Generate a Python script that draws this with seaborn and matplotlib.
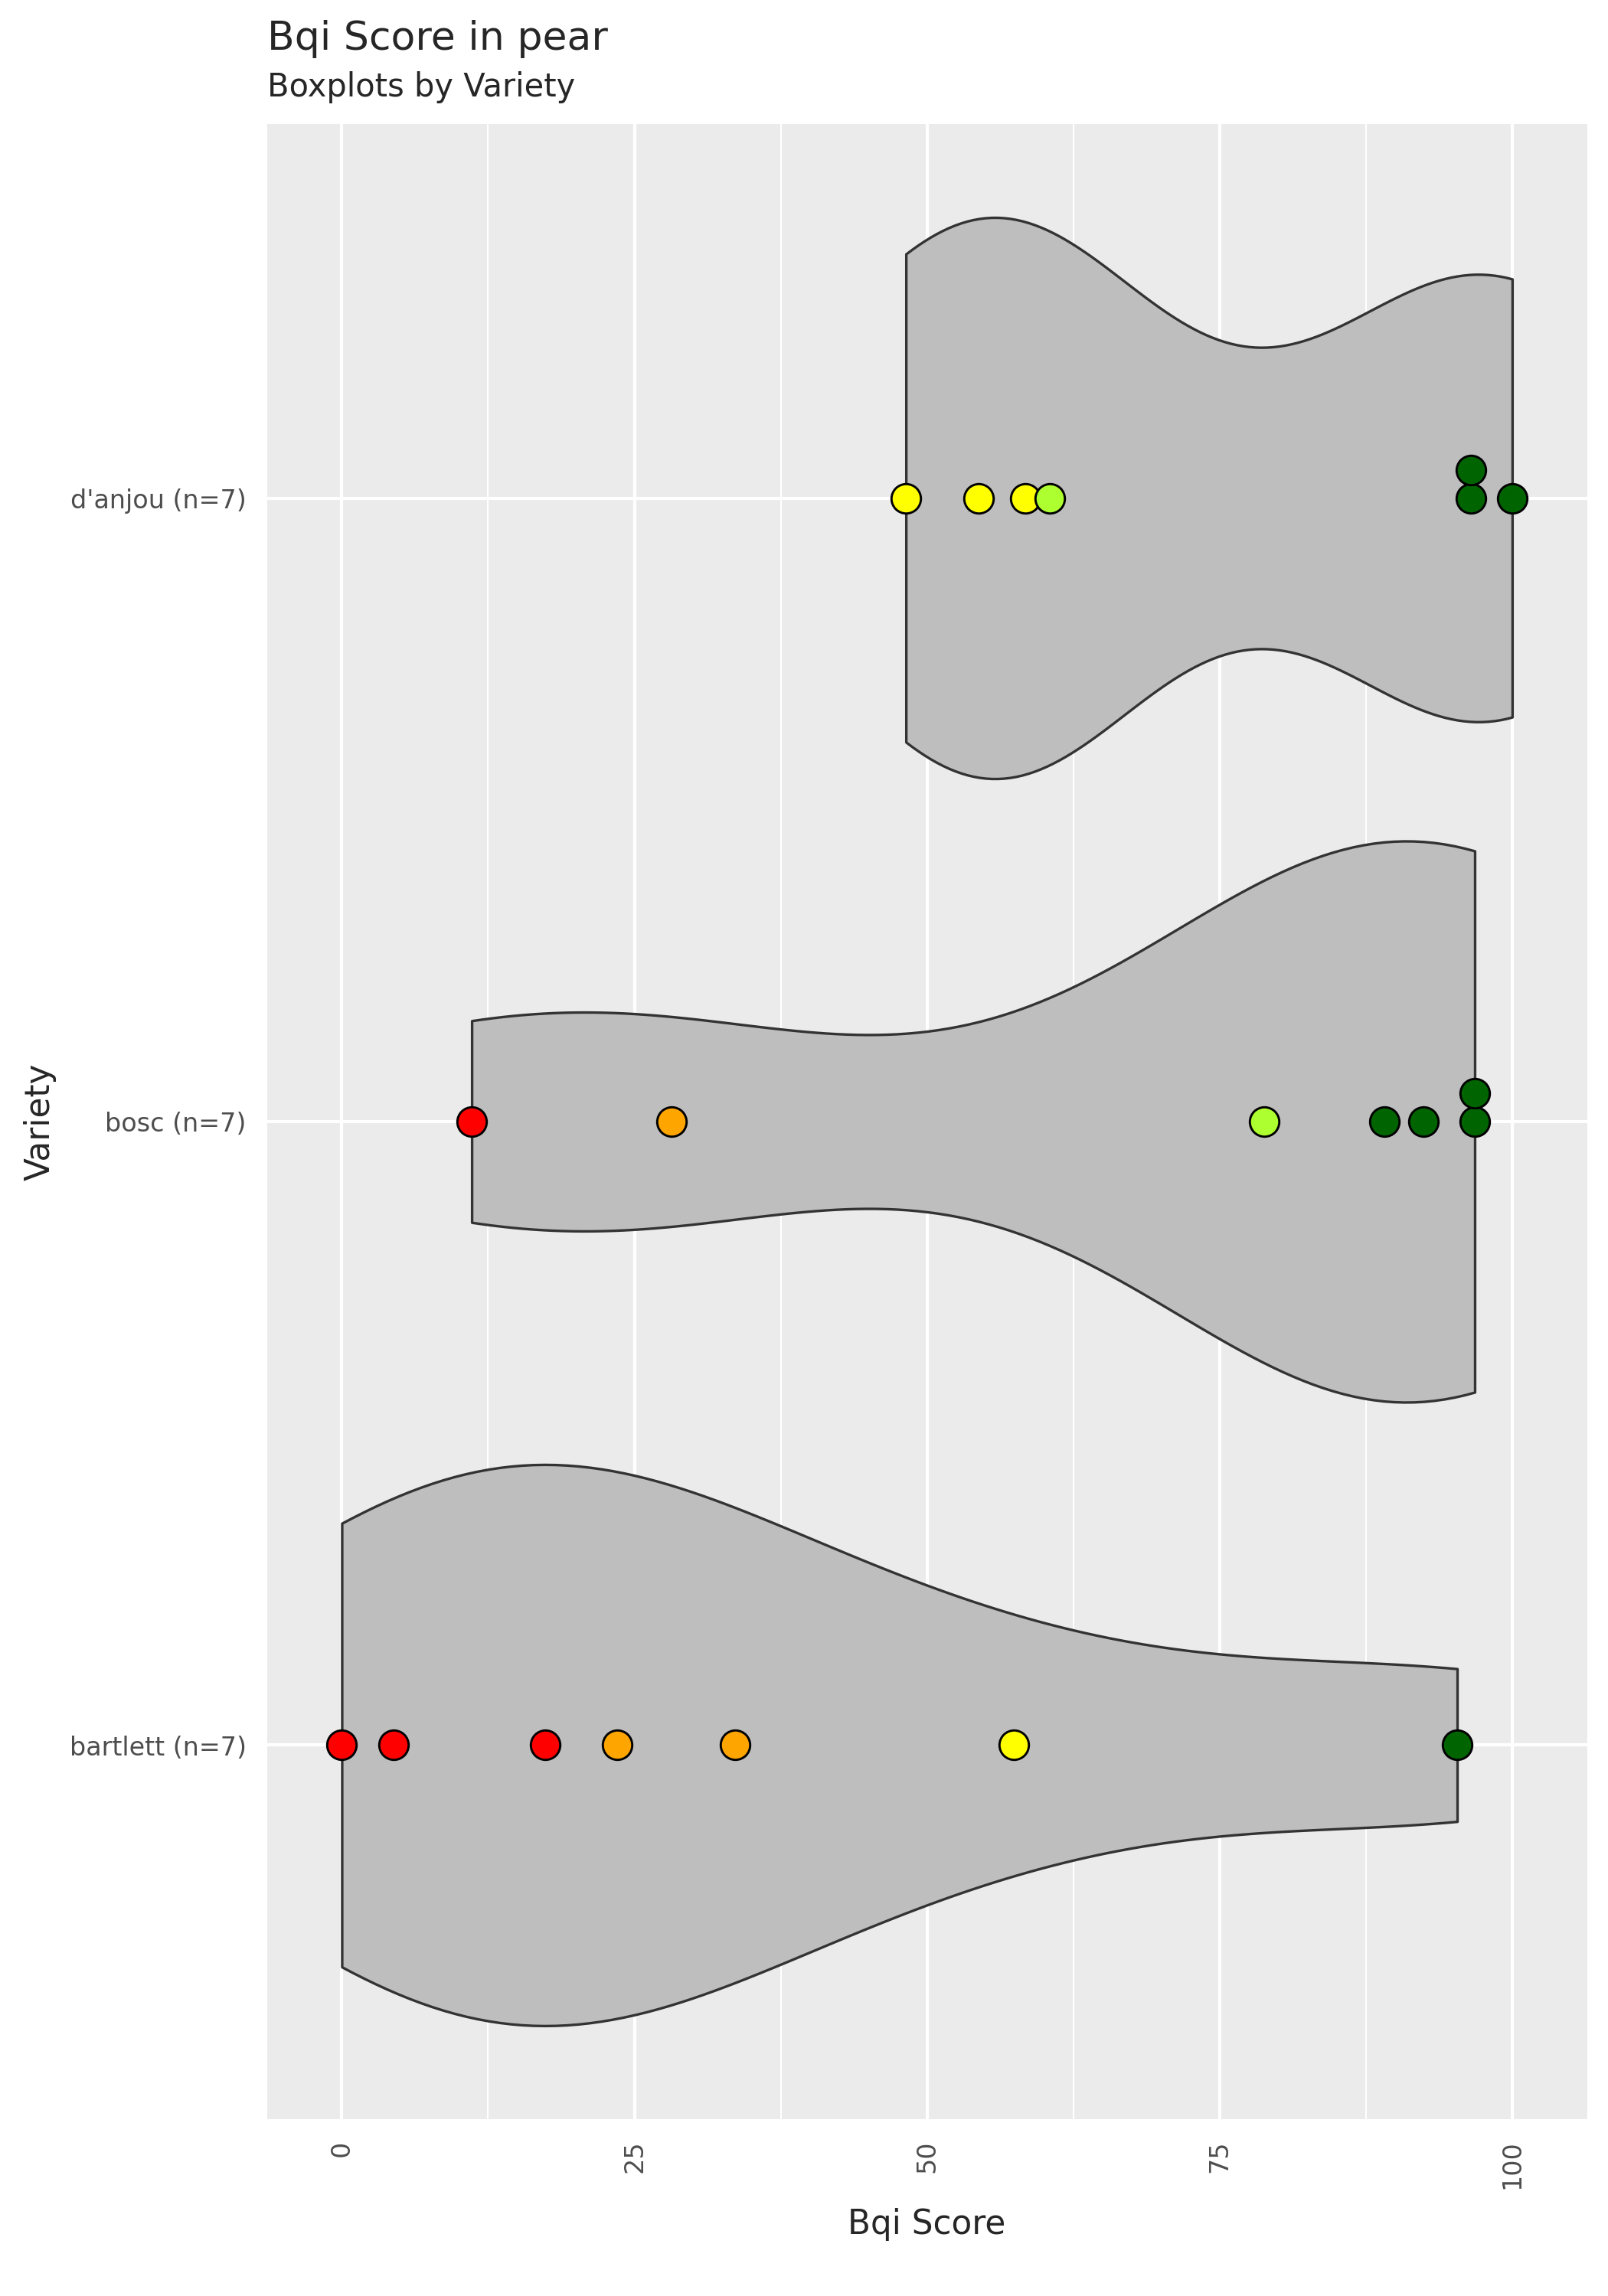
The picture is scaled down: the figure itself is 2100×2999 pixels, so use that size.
import numpy as np
import pandas as pd
import matplotlib
matplotlib.use("Agg")
import matplotlib.pyplot as plt
import seaborn as sns

varieties = ["d'anjou", "bosc", "bartlett"]
danjou_scores = [48.2, 54.4, 58.4, 60.5, 96.5, 96.5, 100.0]
danjou_colors = ["yellow", "yellow", "yellow", "greenyellow", "darkgreen", "darkgreen", "darkgreen"]
bosc_scores = [11.1, 28.2, 78.8, 89.1, 92.4, 96.8, 96.8]
bosc_colors = ["red", "orange", "greenyellow", "darkgreen", "darkgreen", "darkgreen", "darkgreen"]
bartlett_scores = [0.0, 4.4, 17.4, 23.5, 33.6, 57.4, 95.3]
bartlett_colors = ["red", "red", "red", "orange", "orange", "yellow", "darkgreen"]

rows = []
for v, sc, cl in [(varieties[0], danjou_scores, danjou_colors),
                  (varieties[1], bosc_scores, bosc_colors),
                  (varieties[2], bartlett_scores, bartlett_colors)]:
    for s, c in zip(sc, cl):
        rows.append({"variety": f"{v} (n={len(sc)})", "score": s, "color": c})
df = pd.DataFrame(rows)
order = list(dict.fromkeys(df["variety"]))

sns.set_style("darkgrid", {"axes.facecolor": "#EBEBEB", "grid.color": "white"})
plt.rcParams['font.family'] = ['DejaVu Sans']

fig = plt.figure(figsize=(7, 9.997), dpi=300)
ax = fig.add_axes([0.166, 0.077, 0.821, 0.869])

sns.violinplot(data=df, x="score", y="variety", order=order, cut=0, inner=None,
               color="#BEBEBE", linecolor="#333333", linewidth=0.8, width=0.9,
               density_norm="width", bw_adjust=0.85, saturation=1, ax=ax)

# dots, stacking duplicates upward
for i, v in enumerate(order):
    sub = df[df["variety"] == v]
    seen = {}
    for _, r in sub.iterrows():
        k = seen.get(r["score"], 0)
        seen[r["score"]] = k + 1
        ax.scatter(r["score"], i - 0.045 * k, s=85, color=r["color"],
                   edgecolor="black", linewidth=0.7, zorder=5)

ax.set_xlim(-6.4, 106.4)
ax.set_ylim(2.6, -0.6)
ax.set_xticks([0, 25, 50, 75, 100])
ax.set_xticks([12.5, 37.5, 62.5, 87.5], minor=True)
ax.grid(True, which="major", color="white", linewidth=1.0)
ax.grid(True, which="minor", axis="x", color="white", linewidth=0.5)
ax.tick_params(axis="x", labelrotation=90, labelsize=8, colors="#4D4D4D", length=3)
ax.tick_params(axis="y", labelsize=8, colors="#4D4D4D", length=3)
for lab in ax.get_xticklabels() + ax.get_yticklabels():
    lab.set_color("#4D4D4D")
ax.set_xlabel("Bqi Score", fontsize=10.5, labelpad=6)
ax.set_ylabel("Variety", fontsize=10.5)
for s in ax.spines.values():
    s.set_visible(False)

fig.text(0.166, 0.983, "Bqi Score in pear", fontsize=12.5, va="center")
fig.text(0.166, 0.962, "Boxplots by Variety", fontsize=10, va="center")

fig.savefig("out.png", dpi=300)
